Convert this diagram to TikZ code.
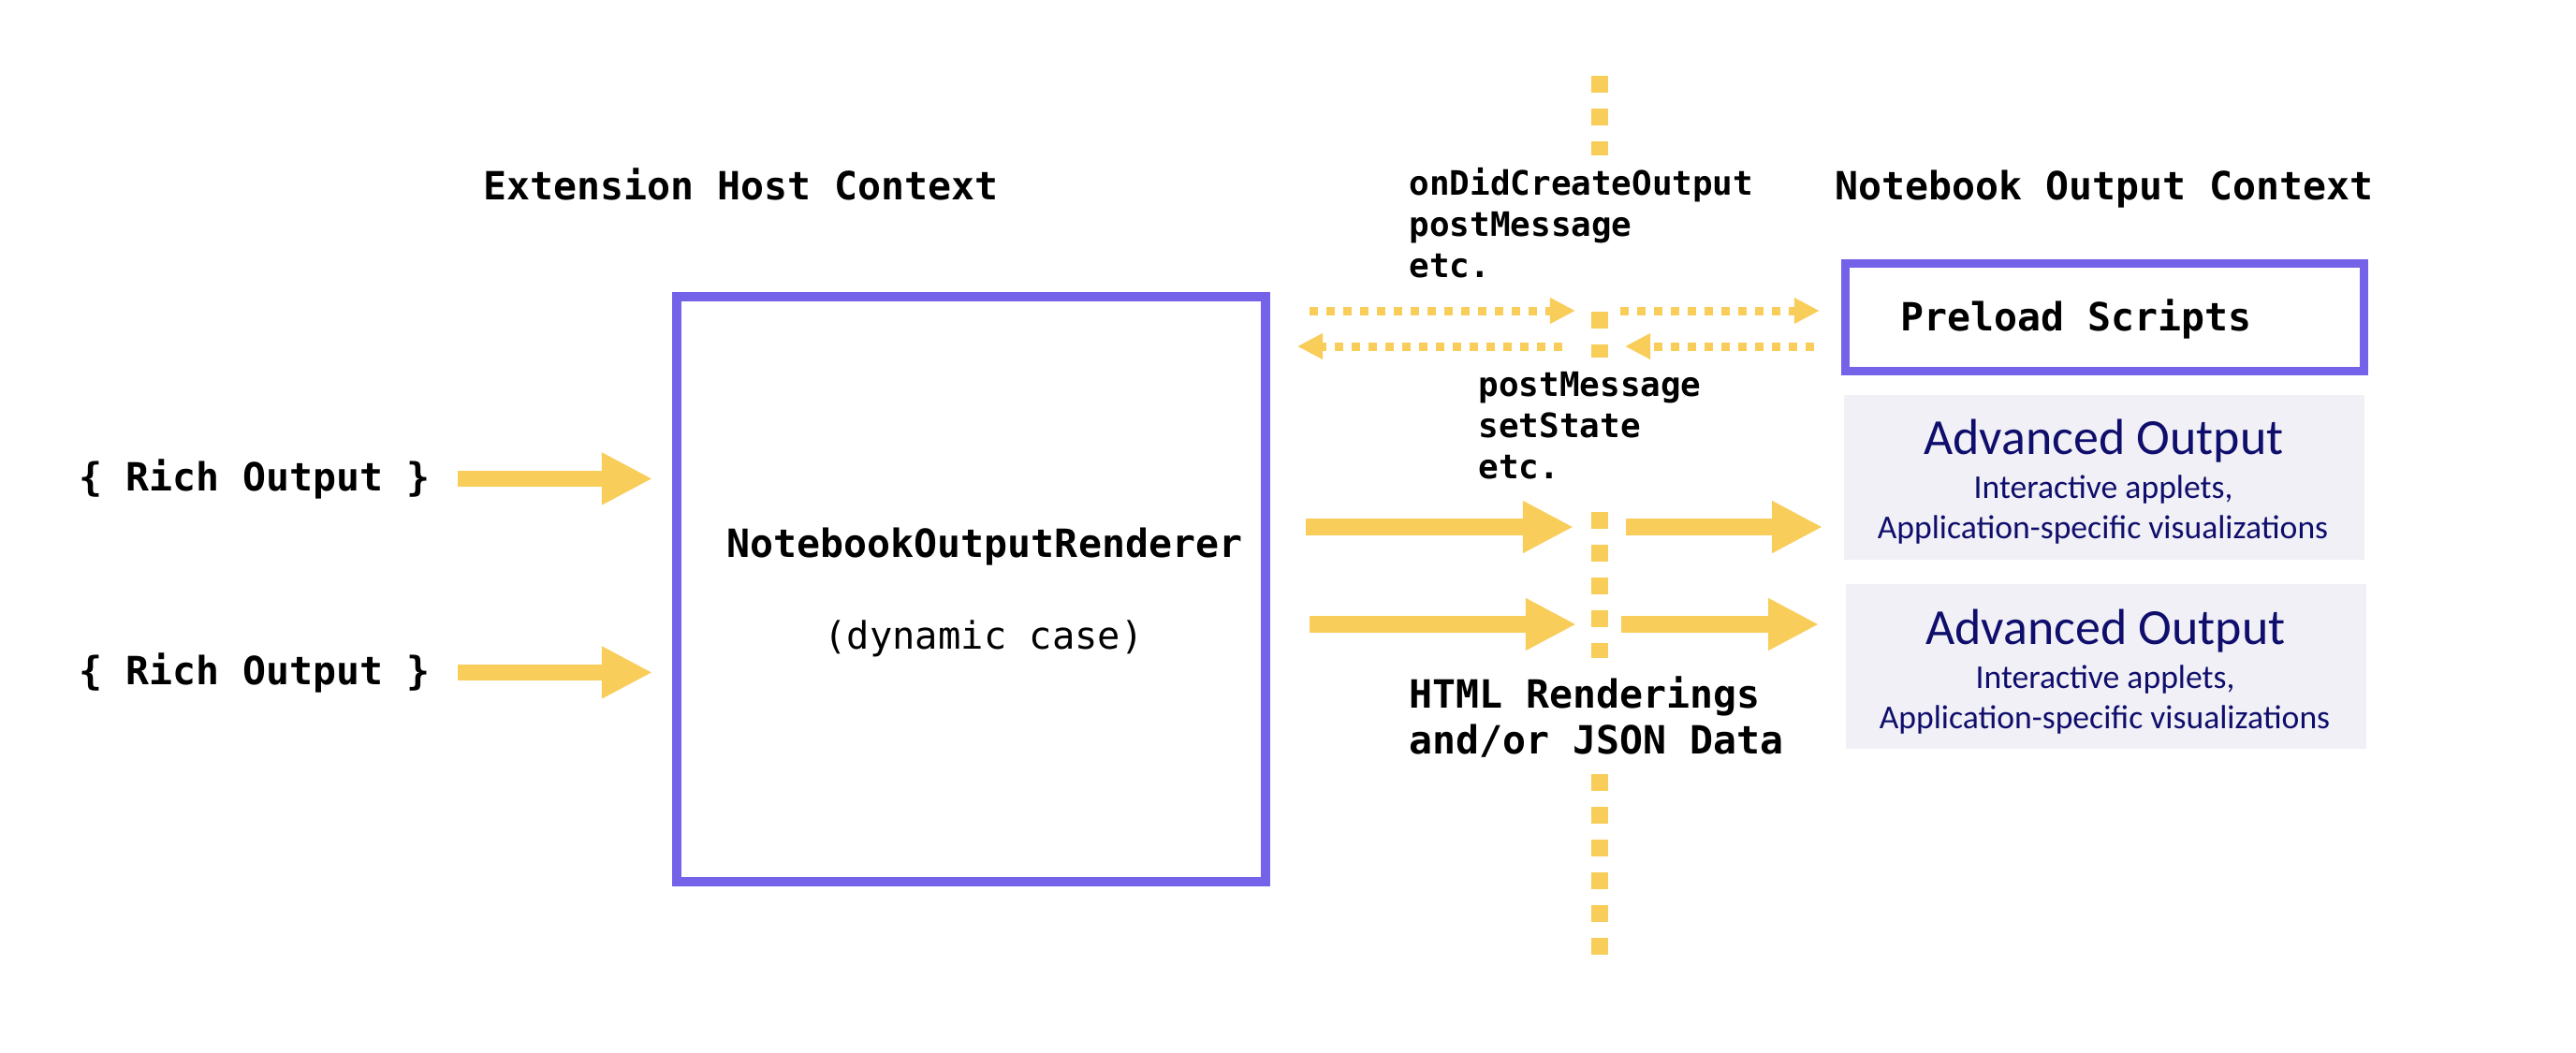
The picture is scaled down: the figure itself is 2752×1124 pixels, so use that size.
\documentclass[tikz,border=0pt]{standalone}
\usepackage{fontspec}
\newfontfamily\codefont{DejaVu Sans Mono}
\newfontfamily\calibfont{Carlito}
\usetikzlibrary{arrows.meta,calc}
\definecolor{boxpurple}{RGB}{116,98,232}
\definecolor{flowyellow}{RGB}{249,205,90}
\definecolor{advfill}{RGB}{240,240,246}
\definecolor{advnavy}{RGB}{16,14,108}
\tikzset{
  bigtxt/.style={font=\codefont\bfseries\fontsize{11.81}{14}\selectfont, inner sep=0pt},
  dyntxt/.style={font=\codefont\fontsize{11.5}{14}\selectfont, inner sep=0pt},
  smalltxt/.style={font=\codefont\bfseries\fontsize{10.21}{12.4}\selectfont, inner sep=0pt, align=left},
  advtitle/.style={font=\calibfont\fontsize{15.34}{18}\selectfont, text=advnavy, inner sep=0pt},
  advsub/.style={font=\calibfont\fontsize{10.13}{12}\selectfont, text=advnavy, inner sep=0pt},
  purplebox/.style={draw=boxpurple, fill=white},
  advbox/.style={fill=advfill, minimum width=5.56cm, minimum height=1.76cm, inner sep=0pt},
  bigarrow/.style={draw=flowyellow, line width=4.98pt, -{Triangle[length=15.4pt,width=14.8pt]}, flowyellow},
  dotarrow/.style={draw=flowyellow, line width=2.56pt, dash pattern=on 2.56pt off 2.56pt, -{Triangle[length=7.7pt,width=7.4pt]}, flowyellow},
  divider/.style={draw=flowyellow, line width=5.12pt, dash pattern=on 4.98pt off 4.98pt}
}
\begin{document}
\begin{tikzpicture}[x=0.01cm, y=-0.01cm]
\path[fill=white, use as bounding box] (0,0) rectangle (2752,1124);

% titles
\node[bigtxt, anchor=base] (ehc) at (791.5,213) {Extension Host Context};
\node[bigtxt, anchor=base] (noc) at (2248,213) {Notebook Output Context};

% main renderer box
\node[purplebox, line width=2.7pt, minimum width=6.29cm, minimum height=6.25cm, inner sep=0pt] (render) at (1037.5,629.5) {};
\node[bigtxt, anchor=base] (rendername) at (1052,595) {NotebookOutputRenderer};
\node[dyntxt, anchor=base] (rendercase) at (1051,693) {(dynamic case)};

% rich outputs
\node[bigtxt, anchor=base west] (rich1) at (84,524) {\{ Rich Output \}};
\node[bigtxt, anchor=base west] (rich2) at (84,731) {\{ Rich Output \}};

% labels near divider (base anchor = last line's baseline)
\node[smalltxt, anchor=base west] (msgsout) at (1505,296) {onDidCreateOutput\\postMessage\\etc.};
\node[smalltxt, anchor=base west, font=\codefont\bfseries\fontsize{10.21}{12.5}\selectfont] (msgsin) at (1579,511) {postMessage\\setState\\etc.};
\node[bigtxt, anchor=base west, align=left, font=\codefont\bfseries\fontsize{11.81}{13.66}\selectfont] (htmldata) at (1505,805) {HTML Renderings\\and/or JSON Data};

% preload box
\node[purplebox, line width=2.56pt, minimum width=5.54cm, minimum height=1.15cm, inner sep=0pt] (preload) at (2248.5,339) {};
\node[bigtxt, anchor=base west] (preloadtxt) at (2030,353) {Preload Scripts};

% advanced output boxes
\node[advbox] (adv1) at (2248,510) {};
\node[advtitle, anchor=base] (adv1t) at (2247.5,485) {Advanced Output};
\node[advsub, anchor=base] (adv1a) at (2247,532) {Interactive applets,};
\node[advsub, anchor=base] (adv1b) at (2246.5,575) {Application-specific visualizations};
\node[advbox] (adv2) at (2250,712) {};
\node[advtitle, anchor=base] (adv2t) at (2249.5,688) {Advanced Output};
\node[advsub, anchor=base] (adv2a) at (2249,735) {Interactive applets,};
\node[advsub, anchor=base] (adv2b) at (2248.5,778) {Application-specific visualizations};

% divider line
\coordinate (v0) at (1709,81);
\coordinate (v1) at (1709,166);
\coordinate (v2) at (1709,333);
\coordinate (v3) at (1709,382);
\coordinate (v4) at (1709,547);
\coordinate (v5) at (1709,703);
\coordinate (v6) at (1709,827);
\coordinate (v7) at (1709,1021);
\draw[divider] (v0) -- (v1);
\draw[divider] (v2) -- (v3);
\draw[divider] (v4) -- (v5);
\draw[divider] (v6) -- (v7);

% row coordinates on the divider
\coordinate (u) at (1709,332);
\coordinate (l) at (1709,370);
\coordinate (r1) at (1709,563);
\coordinate (r2) at (1709,667);

% rich output arrows
\draw[bigarrow] ($(rich1.east)+(29,0)$) -- ($(rich1.east -| render.west)+(-21,0)$);
\draw[bigarrow] ($(rich2.east)+(29,0)$) -- ($(rich2.east -| render.west)+(-21,0)$);

% renderer -> divider -> advanced output
\draw[bigarrow] ($(render.east |- r1)+(38,0)$) -- ($(r1)+(-28,0)$);
\draw[bigarrow] ($(render.east |- r2)+(42,0)$) -- ($(r2)+(-25,0)$);
\draw[bigarrow] ($(r1)+(28,0)$) -- ($(r1 -| adv1.west)+(-22,0)$);
\draw[bigarrow] ($(r2)+(23,0)$) -- ($(r2 -| adv2.west)+(-28,0)$);

% messaging arrows
\draw[dotarrow] ($(render.east |- u)+(42,0)$) -- ($(u)+(-26,0)$);
\draw[dotarrow] ($(u)+(22,0)$) -- ($(u -| preload.west)+(-23,0)$);
\draw[dotarrow] ($(l)+(-40,0)$) -- ($(render.east |- l)+(29,0)$);
\draw[dotarrow] ($(l -| preload.west)+(-29,0)$) -- ($(l)+(27,0)$);
\end{tikzpicture}
\end{document}
